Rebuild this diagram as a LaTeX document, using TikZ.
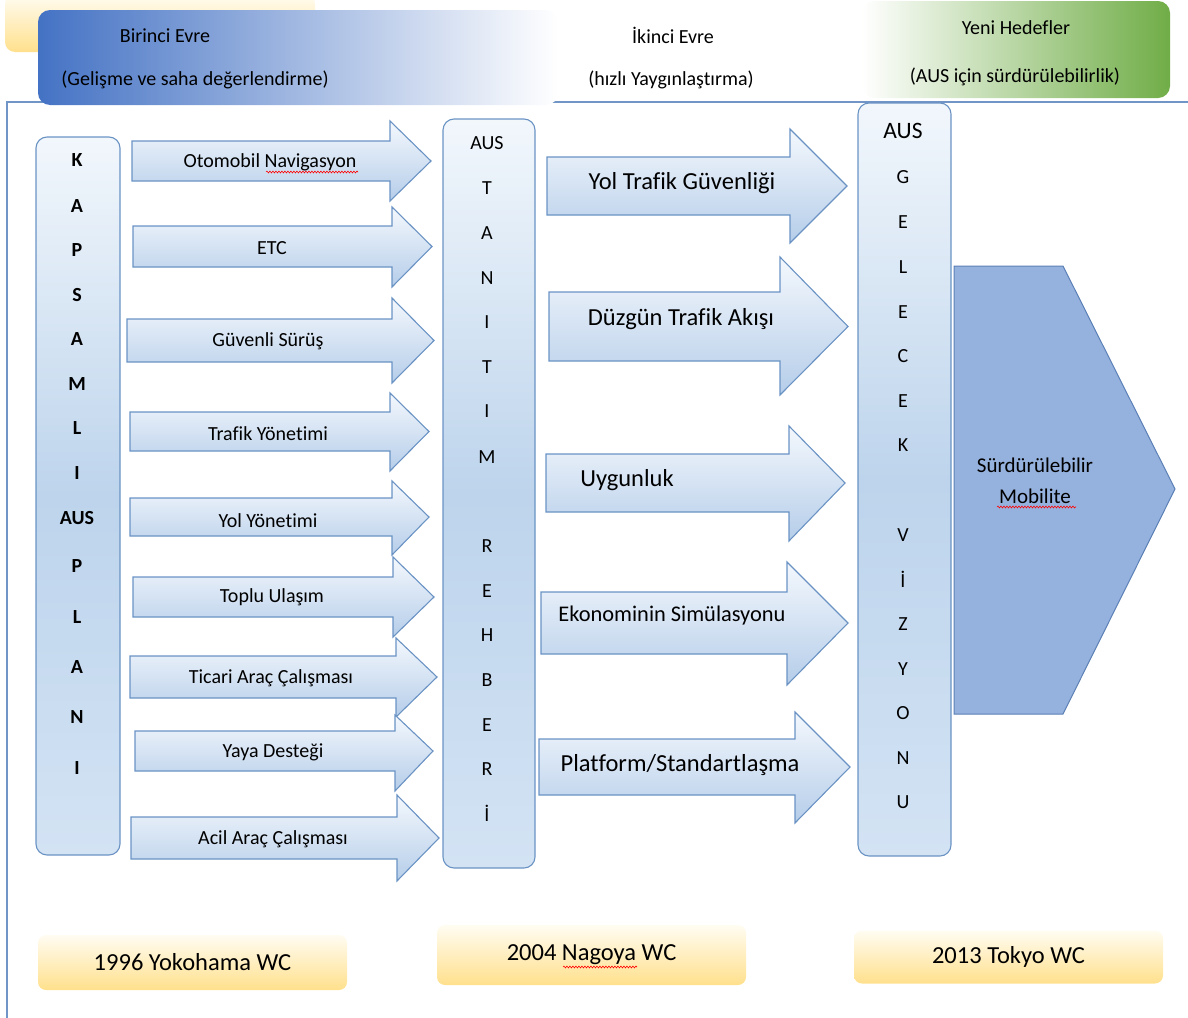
\documentclass[tikz,border=0pt]{standalone}
\usepackage{fontspec}
\setmainfont{Carlito}[Ligatures=NoCommon]
\usetikzlibrary{decorations.pathmorphing}
\definecolor{bord}{HTML}{6A93C4}
\definecolor{colTop}{HTML}{F2F7FC}
\definecolor{colMid}{HTML}{BDD4EC}
\definecolor{colBot}{HTML}{D3E3F4}
\definecolor{arrTop}{HTML}{F4F8FD}
\definecolor{arrBot}{HTML}{B5CDE9}
\definecolor{pent}{HTML}{95B1DD}
\definecolor{pentB}{HTML}{5B80B6}
\definecolor{ylwTop}{HTML}{FFFCF2}
\definecolor{ylwBot}{HTML}{FFE08C}
\definecolor{hdrBlue}{HTML}{4472C4}
\definecolor{hdrGreen}{HTML}{70AD47}
\definecolor{frameC}{HTML}{7095C6}
\newcommand\myarrow[7]{\path[arrowshape] (#1,#4) -- (#2,#4) -- (#2,#6) -- (#3,{(#4+#5)/2}) -- (#2,#7) -- (#2,#5) -- (#1,#5) -- cycle;}
\tikzset{
  arrowshape/.style={draw=bord, line width=1.1pt, top color=arrTop, bottom color=arrBot},
  colbox/.style={draw=bord, line width=1.1pt, rounded corners=11pt, top color=colTop, bottom color=colBot, middle color=colMid, inner sep=0pt},
  ybox/.style={rounded corners=8pt, top color=ylwTop, bottom color=ylwBot, inner sep=0pt, font=\fontsize{24.5}{28}\selectfont},
  txt/.style={font=\fontsize{20}{24}\selectfont, inner sep=0pt, yshift=-1.5pt},
  bigtxt/.style={font=\fontsize{24.5}{28}\selectfont, inner sep=0pt, yshift=-2pt},
  lbold/.style={font=\fontsize{20}{24}\bfseries\selectfont, inner sep=0pt, yshift=-1pt},
  lreg/.style={font=\fontsize{20}{24}\selectfont, inner sep=0pt, yshift=-1pt},
  squig/.style={red, line width=0.6pt, decorate, decoration={snake, amplitude=0.9pt, segment length=3pt}}
}
\begin{document}
\begin{tikzpicture}[x=1pt, y=-1pt]
\useasboundingbox (0,0) rectangle (1188,1017);
% frame
\draw[frameC, line width=1.3pt] (7,1020) -- (7,102) -- (1192,102);
% header
\path[rounded corners=10pt, top color=ylwTop, bottom color=ylwBot] (5,-6) rectangle (315,52);
\path[rounded corners=12pt, left color=hdrBlue, right color=white] (38,10) rectangle (558,105);
\path[rounded corners=12pt, left color=white, right color=hdrGreen] (862,1) rectangle (1170,98);
\node[txt] (p1a) at (165,34) {Birinci Evre};
\node[txt] (p1b) at (195,78) {(Gelişme ve saha değerlendirme)};
\node[txt] (p2a) at (673,34) {İkinci Evre};
\node[txt] (p2b) at (671,78) {(hızlı Yaygınlaştırma)};
\node[txt] (p3a) at (1016,26) {Yeni Hedefler};
\node[txt] (p3b) at (1015,75) {(AUS için sürdürülebilirlik)};
% columns
\node[colbox, minimum width=84pt, minimum height=718pt] (kap) at (78,496) {};
\node[colbox, minimum width=92pt, minimum height=749pt] (tan) at (489,493.5) {};
\node[colbox, minimum width=93pt, minimum height=753pt] (gel) at (904.5,479.5) {};
\foreach \l/\yy [count=\i] in {K/159,A/205,P/249,S/294,A/338,M/383,L/427,I/472,AUS/517,P/565,L/616,A/666,N/716,I/767}
  \node[lbold] (k\i) at (77,\yy) {\l};
\foreach \l/\yy [count=\i] in {AUS/142,T/187,A/232,N/277,I/321,T/366,I/410,M/456,R/545,E/590,H/634,B/679,E/724,R/768,İ/812}
  \node[lreg] (m\i) at (487,\yy) {\l};
\node[font=\fontsize{23.5}{26}\selectfont, inner sep=0pt, yshift=-1pt] (g0) at (903,130) {AUS};
\foreach \l/\yy [count=\i] in {G/176,E/221,L/266,E/311,C/355,E/400,K/444,V/534,İ/578,Z/623,Y/668,O/712,N/757,U/801}
  \node[lreg] (g\i) at (903,\yy) {\l};
% left arrows
\myarrow{132}{390}{431}{141}{181}{121}{201}
\myarrow{133}{392}{432}{226}{267}{207}{287}
\myarrow{127}{392}{434}{319}{362}{298}{383}
\myarrow{130}{390}{429}{412}{451}{393}{471}
\myarrow{130}{392}{429}{498}{536}{481}{555}
\myarrow{133}{393}{434}{577}{617}{557}{637}
\myarrow{130}{396}{437}{656}{698}{638}{717}
\myarrow{135}{395}{433}{731}{771}{715}{791}
\myarrow{131}{397}{439}{817}{859}{795}{881}
\node[txt] (t1) at (270,161) {Otomobil Navigasyon};
\node[txt] (t2) at (272,247) {ETC};
\node[txt] (t3) at (268,340) {Güvenli Sürüş};
\node[txt] (t4) at (268,432) {Trafik Yönetimi};
\node[txt] (t5) at (268,519) {Yol Yönetimi};
\node[txt] (t6) at (272,596) {Toplu Ulaşım};
\node[txt] (t7) at (271,677) {Ticari Araç Çalışması};
\node[txt] (t8) at (273,751) {Yaya Desteği};
\node[txt] (t9) at (273,838) {Acil Araç Çalışması};
% right arrows
\myarrow{547}{790}{847}{157}{215}{129}{243}
\myarrow{549}{780}{848}{292}{361}{257}{395}
\myarrow{546}{789}{845}{454}{512}{426}{541}
\myarrow{541}{787}{848}{592}{654}{562}{685}
\myarrow{539}{795}{850}{739}{795}{712}{823}
\node[bigtxt] (r1) at (682,181) {Yol Trafik Güvenliği};
\node[bigtxt] (r2) at (681,317) {Düzgün Trafik Akışı};
\node[bigtxt] (r3) at (627,478) {Uygunluk};
\node[font=\fontsize{22.4}{26}\selectfont, inner sep=0pt, yshift=-2pt] (r4) at (672,614) {Ekonominin Simülasyonu};
\node[bigtxt] (r5) at (680,763) {Platform/Standartlaşma};
% pentagon
\draw[pentB, fill=pent, line width=1pt] (954,266) -- (1063,266) -- (1175,489) -- (1063,714) -- (954,714) -- cycle;
\node[font=\fontsize{21}{31}\selectfont, align=center, inner sep=0pt] (sm) at (1035,481) {Sürdürülebilir\\Mobilite};
% bottom boxes
\node[ybox, minimum width=309pt, minimum height=55pt] (w1) at (192.5,962.5) {1996 Yokohama WC};
\node[ybox, minimum width=309pt, minimum height=60pt] (w2) at (591.5,955) {2004 Nagoya WC};
\node[ybox, minimum width=309pt, minimum height=53pt] (w3) at (1008.5,957) {2013 Tokyo WC};
% spell-check squiggles
\draw[squig] (266,172) -- (358,172);
\draw[squig] (563,967) -- (637,967);
\draw[squig] (997,507) -- (1076,507);
\end{tikzpicture}
\end{document}
